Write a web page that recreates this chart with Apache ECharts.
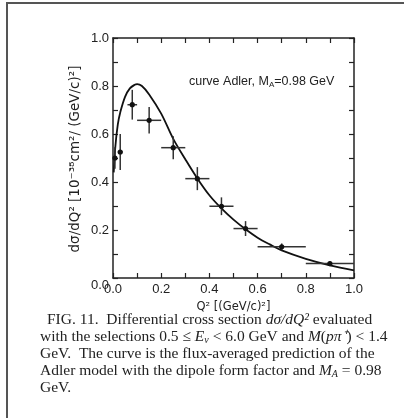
<!DOCTYPE html>
<html><head><meta charset="utf-8">
<script src="https://cdn.jsdelivr.net/npm/echarts@6/dist/echarts.min.js"></script>
<style>html,body{margin:0;padding:0;background:#fff}#c{width:404px;height:418px}</style>
</head><body><div id="c"></div>
<script>
// Adler model curve
const curveX=[0.003,0.01,0.02,0.03,0.05,0.07,0.09,0.10,0.12,0.15,0.20,0.25,0.30,0.35,0.40,0.45,0.50,0.55,0.60,0.65,0.70,0.80,0.90,1.00];
const curveY=[0.44,0.55,0.64,0.69,0.755,0.79,0.805,0.808,0.80,0.765,0.685,0.58,0.495,0.415,0.345,0.29,0.243,0.203,0.168,0.14,0.115,0.08,0.053,0.032];
// measured points
const pointX=[0.008,0.03,0.08,0.15,0.25,0.35,0.45,0.55,0.70,0.90];
const pointY=[0.50,0.525,0.722,0.657,0.543,0.414,0.299,0.206,0.13,0.06];
const xLow =[0.0,0.02,0.06,0.10,0.20,0.30,0.40,0.50,0.60,0.80];
const xHigh=[0.015,0.04,0.10,0.20,0.30,0.40,0.50,0.60,0.80,1.00];
const yErr =[0.045,0.075,0.062,0.055,0.048,0.048,0.037,0.031,0.014,0.01];
const tickLabels=['0.0','0.2','0.4','0.6','0.8','1.0'];

const chart=echarts.init(document.getElementById('c'),null,{renderer:'canvas'});
const SANS='"Liberation Sans", Arial, sans-serif';
const WIDE='"DejaVu Sans", sans-serif';
const SERIF='"Liberation Serif", "Times New Roman", serif';
const fmt=v=>tickLabels[Math.round(v*5)];
const axisCommon={
  type:'value',min:0,max:1,interval:0.2,
  axisLine:{show:true,onZero:false,lineStyle:{color:'#222',width:1.5}},
  axisTick:{show:true,inside:true,length:5,lineStyle:{color:'#222',width:1.2}},
  minorTick:{show:true,splitNumber:2,length:5,lineStyle:{color:'#222',width:1.2}},
  splitLine:{show:false}
};
const errData=pointX.map((x,i)=>[x,pointY[i],xLow[i],xHigh[i],pointY[i]-yErr[i],pointY[i]+yErr[i]]);
const cap=15.5;
const capRich={
  n:{fontFamily:SERIF,fontSize:cap,color:'#222'},
  i:{fontFamily:SERIF,fontSize:cap,fontStyle:'italic',color:'#222'},
  s:{fontFamily:SERIF,fontSize:10,fontStyle:'italic',color:'#222',padding:[6,0,0,0]}
};
function capLine(text,x,y){
  return {type:'text',left:x,top:y,style:{text:text,rich:capRich,fontFamily:SERIF,fontSize:cap,fill:'#222'}};
}
chart.setOption({
  animation:false,
  grid:{left:113,right:50,top:38,bottom:140},
  xAxis:[
    Object.assign({},axisCommon,{position:'bottom',
      axisLabel:{formatter:fmt,fontFamily:SANS,fontSize:13,color:'#222',margin:5},
      name:'Q² [(GeV/c)²]',nameLocation:'middle',nameGap:17,
      nameTextStyle:{fontFamily:WIDE,fontSize:11.5,color:'#222'}}),
    Object.assign({},axisCommon,{position:'top',axisLabel:{show:false}})
  ],
  yAxis:[
    Object.assign({},axisCommon,{position:'left',
      axisLabel:{formatter:v=>v===0?'{z|0.0}':fmt(v),fontFamily:SANS,fontSize:13,color:'#222',margin:4,
        rich:{z:{fontFamily:SANS,fontSize:13,color:'#222',padding:[14,0,0,0]}}}}),
    Object.assign({},axisCommon,{position:'right',axisLabel:{show:false}})
  ],
  graphic:[
    {type:'rect',shape:{x:7,y:3,width:420,height:440},style:{fill:'none',stroke:'#555',lineWidth:2},silent:true},
    {type:'text',x:75,y:159,rotation:Math.PI/2,
      style:{text:'dσ/dQ² [10⁻³⁸cm²/ (GeV/c)²]',fontFamily:WIDE,fontSize:13.5,fill:'#222',align:'center',verticalAlign:'middle'}},
    {type:'text',left:189,top:75,
      style:{text:'curve Adler, M{s|A}=0.98 GeV',fontFamily:SANS,fontSize:12.5,fill:'#222',
        rich:{s:{fontFamily:SANS,fontSize:8,fill:'#222',padding:[6,0,0,0]}}}},
    capLine('FIG. 11.  Differential cross section {i|dσ/dQ²} evaluated',47,312),
    capLine('with the selections 0.5 ≤ {i|E}{s|ν} < 6.0 GeV and {i|M}({i|pπ⁺}) < 1.4',40,329),
    capLine('GeV.  The curve is the flux-averaged prediction of the',40,346),
    capLine('Adler model with the dipole form factor and {i|M}{s|A} = 0.98',40,363),
    capLine('GeV.',40,380)
  ],
  series:[
    {type:'line',xAxisIndex:0,yAxisIndex:0,data:curveX.map((x,i)=>[x,curveY[i]]),
      smooth:0.35,showSymbol:false,symbol:'none',lineStyle:{color:'#111',width:1.8},z:3},
    {type:'custom',xAxisIndex:0,yAxisIndex:0,data:errData,z:4,
      renderItem:function(params,api){
        const c=api.coord([api.value(0),api.value(1)]);
        const l=api.coord([api.value(2),api.value(1)]);
        const r=api.coord([api.value(3),api.value(1)]);
        const lo=api.coord([api.value(0),api.value(4)]);
        const hi=api.coord([api.value(0),api.value(5)]);
        const st={stroke:'#333',lineWidth:1.5};
        return {type:'group',children:[
          {type:'line',shape:{x1:l[0],y1:l[1],x2:r[0],y2:r[1]},style:st},
          {type:'line',shape:{x1:lo[0],y1:lo[1],x2:hi[0],y2:hi[1]},style:st},
          {type:'circle',shape:{cx:c[0],cy:c[1],r:2.6},style:{fill:'#111'}}
        ]};
      }}
  ]
});
</script></body></html>
